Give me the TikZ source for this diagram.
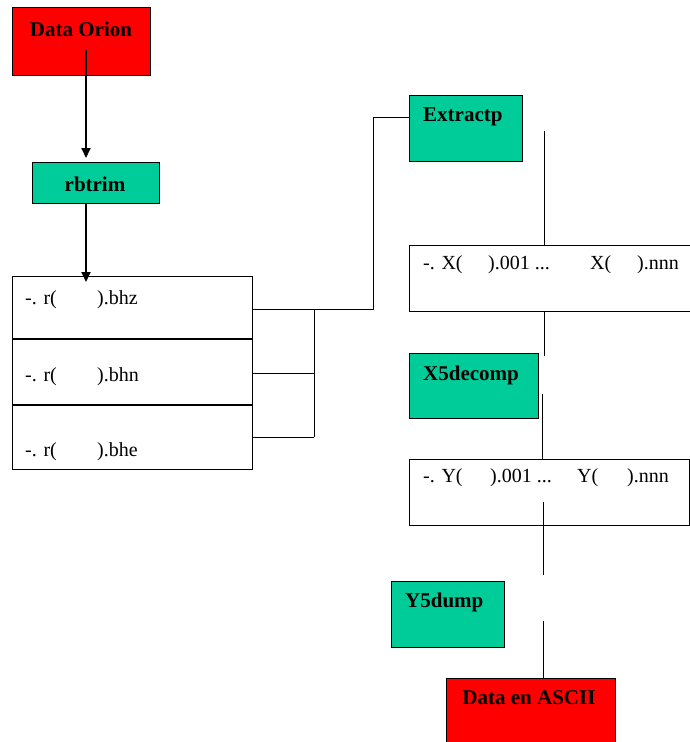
\documentclass[tikz,border=0pt]{standalone}
\usepackage{fontspec}
\setmainfont{Liberation Serif}
\usetikzlibrary{arrows.meta}
\definecolor{boxred}{RGB}{255,0,0}
\definecolor{boxgreen}{RGB}{0,204,153}
\begin{document}
\begin{tikzpicture}[x=1pt,y=-1pt,
  box/.style={draw=black, line width=1.3pt, inner sep=0pt, anchor=north west},
  redbox/.style={box, fill=boxred},
  greenbox/.style={box, fill=boxgreen},
  whitebox/.style={box, fill=white},
  btxt/.style={font=\fontsize{21}{23}\selectfont\bfseries, inner sep=0pt},
  rtxt/.style={font=\fontsize{20}{22}\selectfont, inner sep=0pt, anchor=west},
  conn/.style={line width=1pt},
  arr/.style={line width=2pt, -{Triangle[width=9pt,length=10pt]}}]
\useasboundingbox (0,0) rectangle (690,742);
\fill[white] (0,0) rectangle (690,742);
% boxes
\node[redbox, minimum width=138pt, minimum height=68pt] (orion) at (12,7) {};
\node[btxt] (orionT) at (81,29) {Data Orion};
\node[greenbox, minimum width=127pt, minimum height=41pt] (rbtrim) at (32,162) {};
\node[btxt] (rbtrimT) at (95,184) {rbtrim};
\node[whitebox, minimum width=240pt, minimum height=193pt] (files) at (12,276) {};
\coordinate (d1l) at (12,339); \coordinate (d1r) at (252,339);
\coordinate (d2l) at (12,405); \coordinate (d2r) at (252,405);
\draw[line width=1.3pt] (d1l) -- (d1r) (d2l) -- (d2r);
\node[rtxt] (f1a) at (25,300) {-. r(};
\node[rtxt] (f1b) at (97,300) {).bhz};
\node[rtxt] (f2a) at (25,377) {-. r(};
\node[rtxt] (f2b) at (97,377) {).bhn};
\node[rtxt] (f3a) at (25,452) {-. r(};
\node[rtxt] (f3b) at (97,452) {).bhe};
\node[greenbox, minimum width=113pt, minimum height=66pt] (extr) at (409,95) {};
\node[btxt, anchor=west] (extrT) at (423,117) {Extractp};
\node[whitebox, minimum width=290pt, minimum height=66pt] (xbox) at (409,245) {};
\node[rtxt] (x1) at (423,265) {-. X(};
\node[rtxt] (x2) at (488,265) {).001 ...};
\node[rtxt] (x3) at (590,265) {X(};
\node[rtxt] (x4) at (637,265) {).nnn};
\node[greenbox, minimum width=129pt, minimum height=65pt] (x5) at (409,353) {};
\node[btxt, anchor=west] (x5T) at (423,375) {X5decomp};
\node[whitebox, minimum width=280pt, minimum height=66pt] (ybox) at (409,459) {};
\node[rtxt] (y1) at (423,478) {-. Y(};
\node[rtxt] (y2) at (490,478) {).001 ...};
\node[rtxt] (y3) at (577,478) {Y(};
\node[rtxt] (y4) at (627,478) {).nnn};
\node[greenbox, minimum width=113pt, minimum height=66pt] (y5) at (391,581) {};
\node[btxt, anchor=west] (y5T) at (405,602) {Y5dump};
\node[redbox, minimum width=169pt, minimum height=70pt] (ascii) at (446,678) {};
\node[btxt] (asciiT) at (529,698) {Data en ASCII};
% arrows
\coordinate (a1s) at (86,50);
\coordinate (a1e) at (86,158);
\draw[arr] (a1s) -- (a1e);
\coordinate (a2e) at (86,282);
\draw[arr] (rbtrim.south -| a2e) -- (a2e);
% bracket to Extractp
\coordinate (b1) at (252,309); \coordinate (b1m) at (314,309); \coordinate (b1r) at (373,309);
\coordinate (b2) at (252,373); \coordinate (b2m) at (314,373);
\coordinate (b3) at (252,437); \coordinate (b3m) at (314,437);
\coordinate (bt) at (373,117); \coordinate (be) at (409,117);
\draw[conn] (b1) -- (b1r) -- (bt) -- (be);
\draw[conn] (b2) -- (b2m) (b3) -- (b3m) (b1m) -- (b3m);
% vertical connectors
\coordinate (v1s) at (544,131);
\draw[conn] (v1s) -- (xbox.north -| v1s);
\coordinate (v2e) at (544,356);
\draw[conn] (xbox.south -| v2e) -- (v2e);
\coordinate (v3s) at (542,394);
\draw[conn] (v3s) -- (ybox.north -| v3s);
\coordinate (v4s) at (543,502); \coordinate (v4e) at (543,575);
\draw[conn] (v4s) -- (v4e);
\coordinate (v5s) at (543,621);
\draw[conn] (v5s) -- (ascii.north -| v5s);
\end{tikzpicture}
\end{document}
